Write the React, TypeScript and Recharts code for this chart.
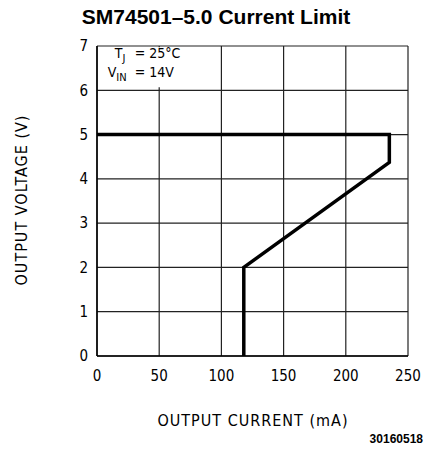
import React from "react";
import {
  CartesianGrid,
  Line,
  LineChart,
  ReferenceArea,
  XAxis,
  YAxis,
} from "recharts";

// Values.
const currentTicks = [0, 50, 100, 150, 200, 250];
const voltageTicks = [0, 1, 2, 3, 4, 5, 6, 7];
const curveCurrent = [0, 235, 235, 118, 118];
const curveVoltage = [5, 5, 4.37, 2, 0];

const data = curveCurrent.map((x, i) => ({ x, y: curveVoltage[i] }));

const NARROW = "'Liberation Sans Narrow', 'DejaVu Sans Condensed', 'Liberation Sans', sans-serif";
const ARIAL = "'Liberation Sans', Arial, sans-serif";

function Conditions(props: any) {
  const vb = props.viewBox || { x: 0, y: 0 };
  const x0 = vb.x;
  const y0 = vb.y;
  return (
    <g fontFamily={NARROW} fontSize={14} fill="#000">
      <text x={x0 + 14} y={y0 + 11}>
        T
        <tspan dy={4} fontSize={11}>J</tspan>
        <tspan x={x0 + 34} dy={-4}>= 25°C</tspan>
      </text>
      <text x={x0 + 7} y={y0 + 30}>
        V
        <tspan dy={4} fontSize={11}>IN</tspan>
        <tspan x={x0 + 34} dy={-4}>= 14V</tspan>
      </text>
    </g>
  );
}

export default function App() {
  return (
    <div style={{ position: "absolute", left: 0, top: 0, width: 430, height: 457, background: "#fff" }}>
      <div
        style={{
          position: "absolute",
          left: 0,
          top: 5,
          width: 432,
          textAlign: "center",
          fontFamily: ARIAL,
          fontWeight: 700,
          fontSize: 21,
        }}
      >
        SM74501–5.0 Current Limit
      </div>
      <LineChart
        width={430}
        height={457}
        data={data}
        margin={{ top: 46, right: 22, bottom: 71, left: 57 }}
      >
        <CartesianGrid stroke="#222" strokeWidth={1.2} />
        <XAxis
          type="number"
          dataKey="x"
          domain={[0, 250]}
          ticks={currentTicks}
          height={30}
          tickSize={0}
          tickMargin={14}
          tickLine={false}
          axisLine={{ stroke: "#000", strokeWidth: 1.5 }}
          tick={{ fill: "#000", fontSize: 15, fontFamily: NARROW }}
        />
        <YAxis
          type="number"
          dataKey="y"
          domain={[0, 7]}
          ticks={voltageTicks}
          width={40}
          tickSize={0}
          tickMargin={9}
          tickLine={false}
          axisLine={{ stroke: "#000", strokeWidth: 1.5 }}
          tick={{ fill: "#000", fontSize: 15, fontFamily: NARROW }}
        />
        <ReferenceArea
          x1={3}
          x2={78}
          y1={6.07}
          y2={6.97}
          fill="#fff"
          fillOpacity={1}
          stroke="none"
          label={<Conditions />}
        />
        <Line
          type="linear"
          dataKey="y"
          stroke="#000"
          strokeWidth={3.5}
          dot={false}
          isAnimationActive={false}
        />
      </LineChart>
      <div
        style={{
          position: "absolute",
          left: 21,
          top: 200,
          transform: "translate(-50%, -50%) rotate(-90deg)",
          whiteSpace: "nowrap",
          fontFamily: NARROW,
          fontSize: 16,
          letterSpacing: 1,
        }}
      >
        OUTPUT VOLTAGE (V)
      </div>
      <div
        style={{
          position: "absolute",
          left: 253,
          top: 420,
          transform: "translate(-50%, -50%)",
          whiteSpace: "nowrap",
          fontFamily: NARROW,
          fontSize: 16,
          letterSpacing: 1,
        }}
      >
        OUTPUT CURRENT (mA)
      </div>
      <div
        style={{
          position: "absolute",
          right: 7,
          top: 432,
          fontFamily: ARIAL,
          fontSize: 12,
          fontWeight: 600,
        }}
      >
        30160518
      </div>
    </div>
  );
}
